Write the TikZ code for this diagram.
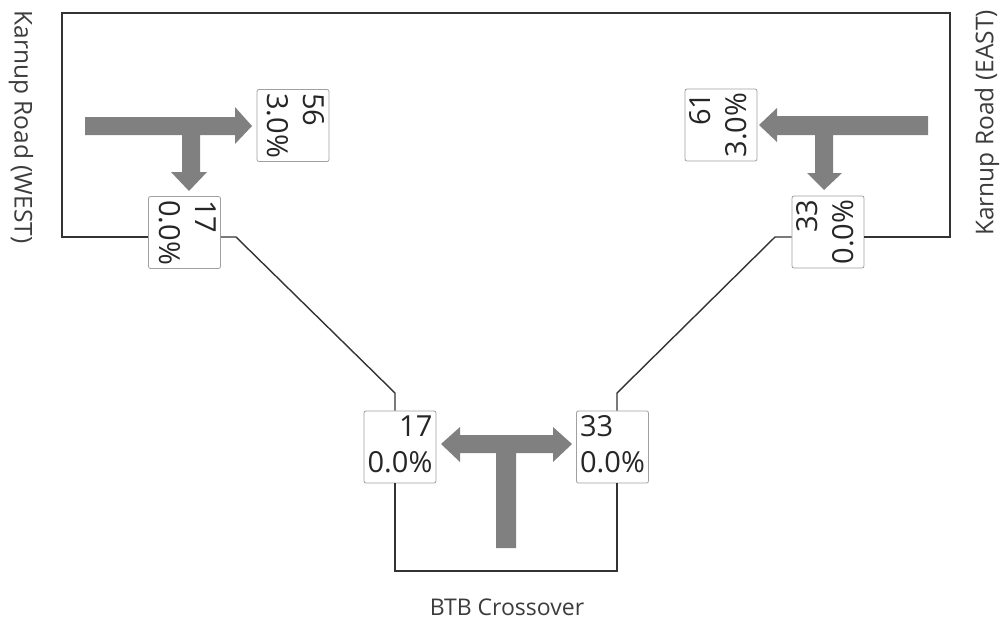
\documentclass[tikz,border=0pt]{standalone}
\usepackage{fontspec}
\usepackage{graphicx}
\setmainfont{Open Sans}
\definecolor{arrowgrey}{HTML}{808080}
\definecolor{boxline}{HTML}{A0A0A0}
\definecolor{roadline}{HTML}{333333}
\definecolor{txt}{HTML}{262626}
\newcommand{\twoline}[3]{{\fontsize{29}{36}\selectfont\begin{tabular}{@{}#1@{}}#2\\#3\end{tabular}}}
\tikzset{
  countbox/.style={draw=boxline, line width=0.8pt, rounded corners=2pt, fill=white,
    minimum width=72pt, minimum height=72pt, inner sep=0pt, text=txt},
  road/.style={draw=roadline, line width=1.4pt},
  flow/.style={fill=arrowgrey, draw=none},
  roadlabel/.style={text=txt!90, font=\fontsize{23}{26}\selectfont, inner sep=0pt},
  sidelabel/.style={roadlabel, font=\fontsize{24.5}{28}\selectfont}
}
\begin{document}
\begin{tikzpicture}[x=1pt,y=-1pt]
\useasboundingbox (0,0) rectangle (1003,622);
% road lines
\coordinate (wc) at (62,237);
\coordinate (tl) at (62,13);
\coordinate (tr) at (950,13);
\coordinate (ec) at (950,237);
\coordinate (wd1) at (236,237);
\coordinate (wd2) at (395,393);
\coordinate (ed1) at (775,237);
\coordinate (ed2) at (617,393);
\coordinate (bbl) at (395,571);
\coordinate (bbr) at (617,571);

% boxes
\node[countbox] (w56) at (293,125.5) {\rotatebox{-90}{\twoline{l}{56}{3.0\%}}};
\node[countbox] (w17) at (184.5,232.5) {\rotatebox{-90}{\twoline{l}{17}{0.0\%}}};
\node[countbox] (e61) at (721,125) {\rotatebox{90}{\twoline{r}{61}{3.0\%}}};
\node[countbox] (e33) at (828,232) {\rotatebox{90}{\twoline{r}{33}{0.0\%}}};
\node[countbox] (bl) at (400,447) {\twoline{r}{17}{0.0\%}};
\node[countbox] (br) at (612.5,447) {\twoline{l}{33}{0.0\%}};

% connectors
\draw[road] (w17.west |- wc) -- (wc) -- (tl) -- (tr) -- (ec) -- (e33.east |- ec);
\draw[road] (w17.east |- wd1) -- (wd1) -- (wd2) -- (bl.north -| wd2);
\draw[road] (e33.west |- ed1) -- (ed1) -- (ed2) -- (br.north -| ed2);
\draw[road] (bl.south -| bbl) -- (bbl) -- (bbr) -- (br.south -| bbr);

% flow arrows west
\fill[flow] (85,117) -- (235,117) -- (235,107) -- (252,126) -- (235,144) -- (235,135)
  -- (200,135) -- (200,172) -- (207,172) -- (189,191) -- (171,172) -- (182,172) -- (182,135)
  -- (85,135) -- cycle;
% flow arrows east
\fill[flow] (928,116) -- (777,116) -- (777,108) -- (759,125) -- (777,142) -- (777,135)
  -- (833,135) -- (833,173) -- (842,173) -- (824,190) -- (807,173) -- (815,173) -- (815,135)
  -- (928,135) -- cycle;
% flow arrows bottom
\fill[flow] (441,444) -- (460,427) -- (460,435) -- (553,435) -- (553,427) -- (572,444)
  -- (553,462) -- (553,453) -- (516,453) -- (516,548) -- (496,548) -- (496,453)
  -- (460,453) -- (460,462) -- cycle;

% labels
\node[sidelabel, rotate=-90] (lw) at (21,127) {Karnup Road (WEST)};
\node[sidelabel, rotate=90] (le) at (987,123) {Karnup Road (EAST)};
\node[roadlabel] (lb) at (507,607) {BTB Crossover};
\end{tikzpicture}
\end{document}
